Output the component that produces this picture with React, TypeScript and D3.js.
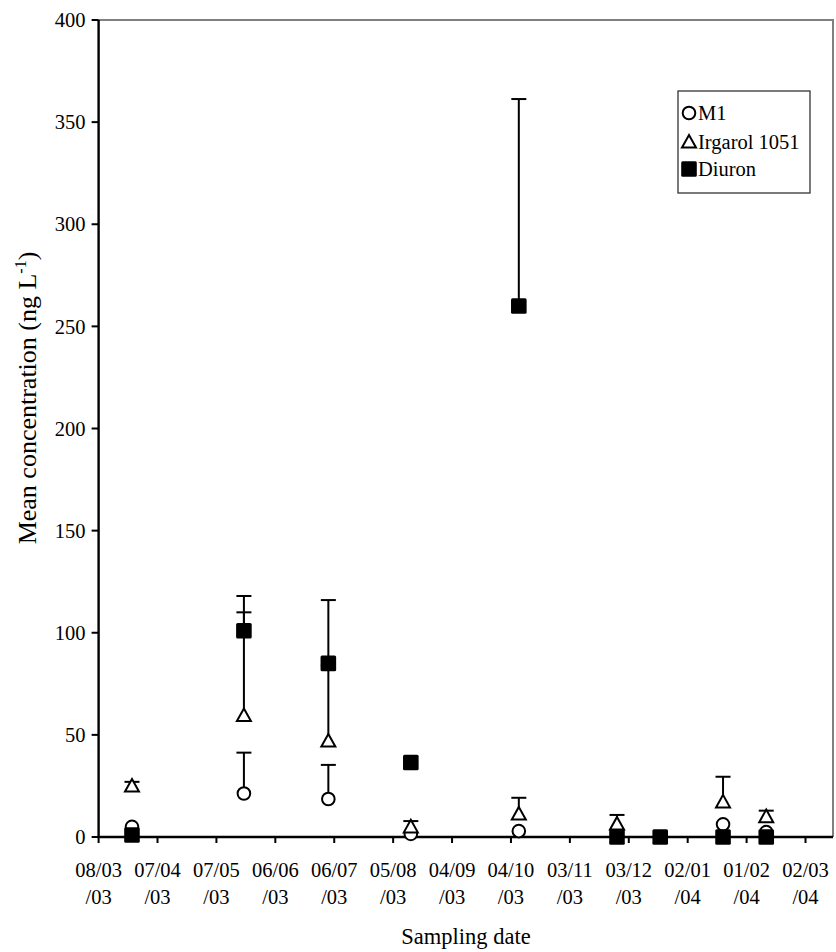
import React from "react";
import * as d3 from "d3";

const tickLabels = ["08/03/03", "07/04/03", "07/05/03", "06/06/03", "06/07/03", "05/08/03", "04/09/03", "04/10/03", "03/11/03", "03/12/03", "02/01/04", "01/02/04", "02/03/04"];
const sampleDates = ["25/03/03", "21/05/03", "03/07/03", "14/08/03", "08/10/03", "27/11/03", "19/12/03", "20/01/04", "11/02/04"];
const yTicks = [0, 50, 100, 150, 200, 250, 300, 350, 400];

const m1Values = [5, 21.3, 18.6, 1.5, 2.9, null, null, 6.2, 2.4];
const m1Errors = [null, 20, 16.7, null, null, null, null, null, null];
const irgarolValues = [25, 59.5, 47, 5, 11.3, 6.4, null, 17.2, 10];
const irgarolErrors = [2, 50.5, 37, 2.8, 7.9, 4.4, null, 12.3, 2.9];
const diuronValues = [1, 101, 85, 36.5, 260, 0, 0, 0, 0];
const diuronErrors = [null, 17, 31, null, 101.3, null, null, null, null];

const seriesNames = ["M1", "Irgarol 1051", "Diuron"];

const parse = d3.utcParse("%d/%m/%y");
const FONT = "Liberation Serif, Times New Roman, serif";

function Marker({ kind, x, y }: { kind: number; x: number; y: number }) {
  if (kind === 0) return <circle cx={x} cy={y} r={6.3} fill="#fff" stroke="#000" strokeWidth={2} />;
  if (kind === 1) {
    const s = 7;
    return <path d={`M${x},${y - s} L${x + s},${y + s * 0.8} L${x - s},${y + s * 0.8} Z`} fill="#fff" stroke="#000" strokeWidth={2} strokeLinejoin="miter" />;
  }
  return <rect x={x - 7.8} y={y - 7.8} width={15.6} height={15.6} rx={1.5} fill="#000" />;
}

export default function App() {
  const W = 836, H = 952;
  const left = 98.6, right = 833, top = 20, bottom = 837;
  const x = d3.scaleUtc().domain([parse("08/03/03")!, parse("16/03/04")!]).range([left, right]);
  const y = d3.scaleLinear().domain([0, 400]).range([bottom, top]);
  const dates = sampleDates.map((d) => parse(d)!);
  const series = [
    { values: m1Values, errors: m1Errors },
    { values: irgarolValues, errors: irgarolErrors },
    { values: diuronValues, errors: diuronErrors },
  ];
  const fs = 20.5;
  const legX = 678, legY = 91, legW = 132, legH = 102;
  const legRows = [113, 142, 169];

  return (
    <svg width={W} height={H} style={{ position: "absolute", left: 0, top: 0, background: "#fff", fontFamily: FONT }}>
      <rect x={0} y={0} width={W} height={H} fill="#fff" />
      <path d={`M${left},${top} H${right} V${bottom}`} fill="none" stroke="#808080" strokeWidth={2} />
      {yTicks.map((t) => (
        <g key={t}>
          <line x1={left - 7} x2={left} y1={y(t)} y2={y(t)} stroke="#000" strokeWidth={2} />
          <text x={left - 13} y={y(t)} dy="0.35em" textAnchor="end" fontSize={fs}>{t}</text>
        </g>
      ))}
      {tickLabels.map((lab) => {
        const xx = x(parse(lab)!);
        const parts = [lab.slice(0, 5), lab.slice(5)];
        return (
          <g key={lab}>
            <line x1={xx} x2={xx} y1={bottom} y2={bottom + 6} stroke="#000" strokeWidth={2} />
            <text x={xx} y={877} textAnchor="middle" fontSize={fs}>{parts[0]}</text>
            <text x={xx} y={904} textAnchor="middle" fontSize={fs}>{parts[1]}</text>
          </g>
        );
      })}
      <line x1={left} x2={left} y1={top} y2={bottom + 1} stroke="#000" strokeWidth={2.4} />
      <line x1={left - 1} x2={right} y1={bottom} y2={bottom} stroke="#000" strokeWidth={2.4} />
      {series.map((s, si) =>
        s.values.map((v, i) => {
          const e = s.errors[i];
          if (v == null || e == null) return null;
          const xx = x(dates[i]);
          const y0 = y(v), y1 = y(v + e);
          return (
            <g key={`e${si}-${i}`} stroke="#000" strokeWidth={2}>
              <line x1={xx} x2={xx} y1={y0} y2={y1} />
              <line x1={xx - 7.5} x2={xx + 7.5} y1={y1} y2={y1} />
            </g>
          );
        })
      )}
      {series.map((s, si) =>
        s.values.map((v, i) => (v == null ? null : <Marker key={`m${si}-${i}`} kind={si} x={x(dates[i])} y={y(v)} />))
      )}
      <rect x={legX} y={legY} width={legW} height={legH} fill="#fff" stroke="#333" strokeWidth={1.3} />
      {seriesNames.map((n, i) => (
        <g key={n}>
          <Marker kind={i} x={legX + 11} y={legRows[i]} />
          <text x={legX + 20} y={legRows[i]} dy="0.35em" fontSize={fs}>{n}</text>
        </g>
      ))}
      <text x={466} y={944} textAnchor="middle" fontSize={22.5}>Sampling date</text>
      <text transform={`translate(36,398) rotate(-90)`} textAnchor="middle" fontSize={26}>
        Mean concentration (ng L<tspan dy={-10} fontSize={16}>-1</tspan><tspan dy={10}>)</tspan>
      </text>
    </svg>
  );
}
